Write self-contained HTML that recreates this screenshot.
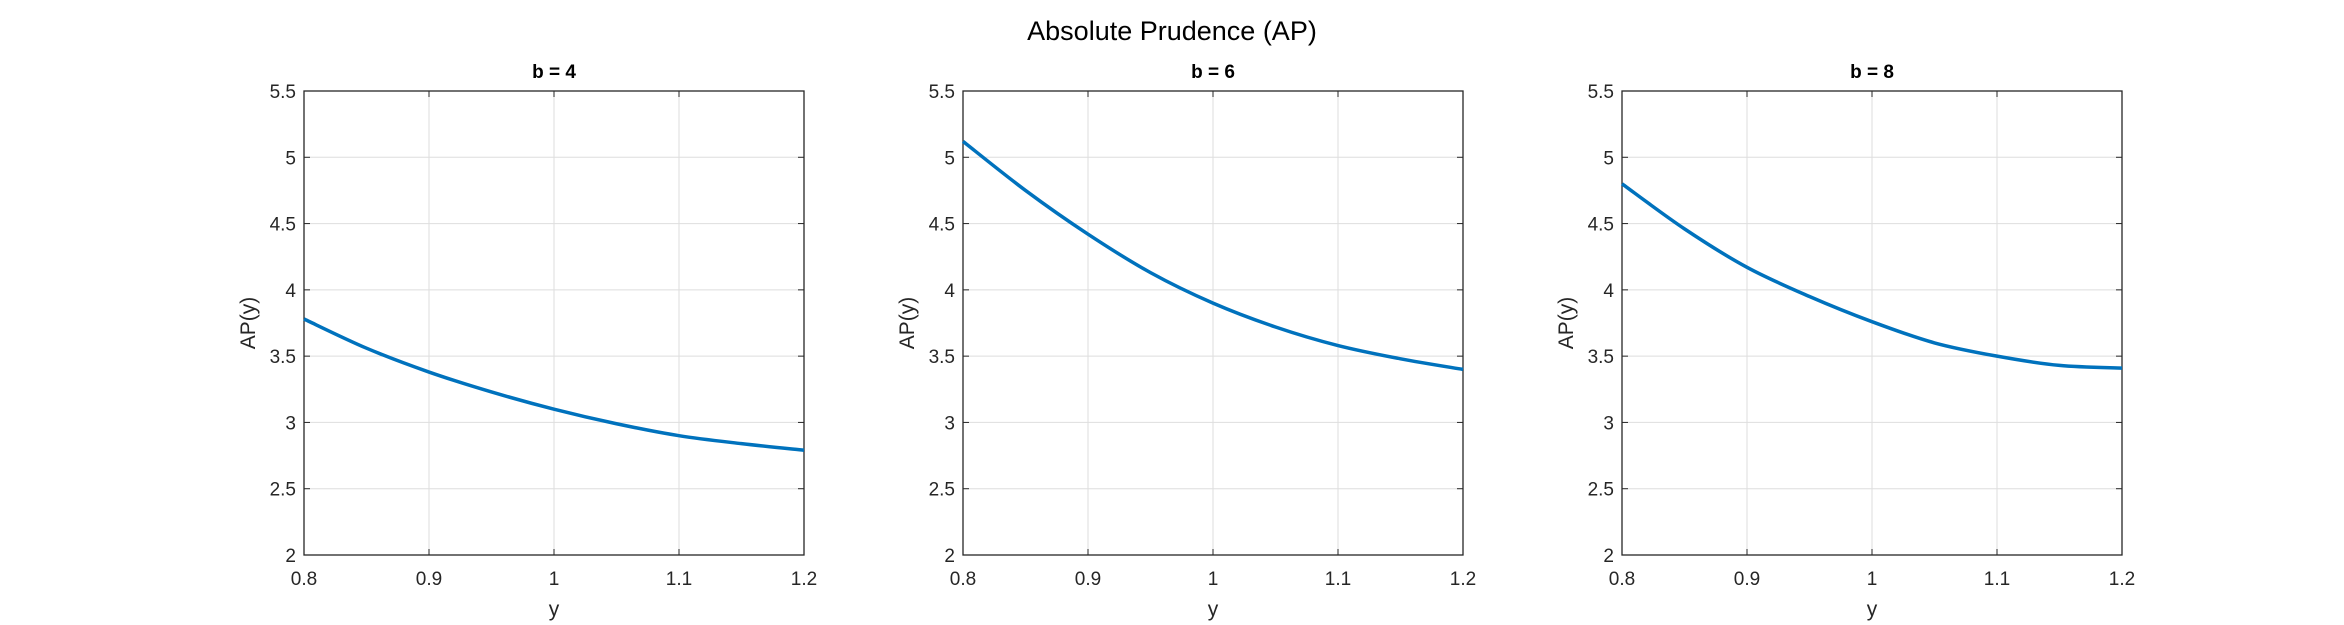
<!DOCTYPE html>
<html><head><meta charset="utf-8"><style>
html,body{margin:0;padding:0;background:#fff;}
svg{display:block;font-family:"Liberation Sans",sans-serif;}
</style></head><body>
<svg id="fig" width="2344" height="625" viewBox="0 0 2344 625">
<text x="1172" y="40" text-anchor="middle" font-size="27" fill="#000">Absolute Prudence (AP)</text>
</svg>
<script>
const xValues=[0.8,0.85,0.9,0.95,1.0,1.05,1.1,1.15,1.2];
const seriesB4=[3.78,3.56,3.38,3.23,3.10,2.99,2.90,2.84,2.79];
const seriesB6=[5.12,4.75,4.42,4.13,3.90,3.72,3.58,3.48,3.40];
const seriesB8=[4.80,4.46,4.17,3.95,3.76,3.60,3.50,3.43,3.41];
const panelTitles=["b = 4","b = 6","b = 8"];
const xTicks=[0.8,0.9,1,1.1,1.2];
const yTicks=[2,2.5,3,3.5,4,4.5,5,5.5];
const xDomain=[0.8,1.2], yDomain=[2,5.5];
const allSeries=[seriesB4,seriesB6,seriesB8];
const NS="http://www.w3.org/2000/svg";
const svgEl=document.getElementById('fig');
const lefts=[304,963,1622], W=500, plotTop=91, H=464;
function mk(t,a,p){const e=document.createElementNS(NS,t);for(const k in a)e.setAttribute(k,a[k]);(p||svgEl).appendChild(e);return e;}
allSeries.forEach((s,i)=>{
  const L=lefts[i];
  const g=mk('g',{});
  
  
  const sx=v=>L+(v-xDomain[0])/(xDomain[1]-xDomain[0])*W;
  const sy=v=>plotTop+H-(v-yDomain[0])/(yDomain[1]-yDomain[0])*H;
  mk('rect',{x:L,y:plotTop,width:W,height:H,fill:'#fff'},g);
  xTicks.forEach(t=>{
    const x=sx(t);
    const gl=mk('line',{x1:x,x2:x,y1:plotTop,y2:plotTop+H,stroke:'#dedede','stroke-width':1},g);
    
    
    mk('line',{x1:x,x2:x,y1:plotTop+H,y2:plotTop+H-6,stroke:'#262626'},g);
    mk('line',{x1:x,x2:x,y1:plotTop,y2:plotTop+6,stroke:'#262626'},g);
    const tl=mk('text',{x:x,y:plotTop+H+30,'text-anchor':'middle','font-size':19,fill:'#262626'},g);
    tl.textContent=String(t);
    
    
  });
  yTicks.forEach(t=>{
    const y=sy(t);
    const gl=mk('line',{x1:L,x2:L+W,y1:y,y2:y,stroke:'#dedede','stroke-width':1},g);
    
    
    mk('line',{x1:L,x2:L+6,y1:y,y2:y,stroke:'#262626'},g);
    mk('line',{x1:L+W,x2:L+W-6,y1:y,y2:y,stroke:'#262626'},g);
    const tl=mk('text',{x:L-8,y:y+7,'text-anchor':'end','font-size':19,fill:'#262626'},g);
    tl.textContent=String(t);
    
    
  });
  const fr=mk('rect',{x:L,y:plotTop,width:W,height:H,fill:'none',stroke:'#262626','stroke-width':1.3},g);
  
  
  const pts=xValues.map((x,j)=>[sx(x),sy(s[j])]);
  let d='M'+pts[0][0]+','+pts[0][1];
  for(let j=0;j<pts.length-1;j++){
    const p0=pts[Math.max(j-1,0)],p1=pts[j],p2=pts[j+1],p3=pts[Math.min(j+2,pts.length-1)];
    const c1=[p1[0]+(p2[0]-p0[0])/6,p1[1]+(p2[1]-p0[1])/6];
    const c2=[p2[0]-(p3[0]-p1[0])/6,p2[1]-(p3[1]-p1[1])/6];
    d+=' C'+c1[0]+','+c1[1]+' '+c2[0]+','+c2[1]+' '+p2[0]+','+p2[1];
  }
  const ln=mk('path',{d:d,fill:'none',stroke:'#0072BD','stroke-width':3.5},g);
  
  
  const tt=mk('text',{x:L+W/2,y:78,'text-anchor':'middle','font-size':19,'font-weight':'bold',fill:'#000'},g);
  tt.textContent=panelTitles[i];
  
  
  const xl=mk('text',{x:L+W/2,y:616,'text-anchor':'middle','font-size':21,fill:'#262626'},g);
  xl.textContent='y';
  
  
  const yl=mk('text',{x:0,y:0,'text-anchor':'middle','font-size':21,fill:'#262626',transform:'translate('+(L-49)+','+(plotTop+H/2)+') rotate(-90)'},g);
  yl.textContent='AP(y)';
  
  
});
</script>
</body></html>
